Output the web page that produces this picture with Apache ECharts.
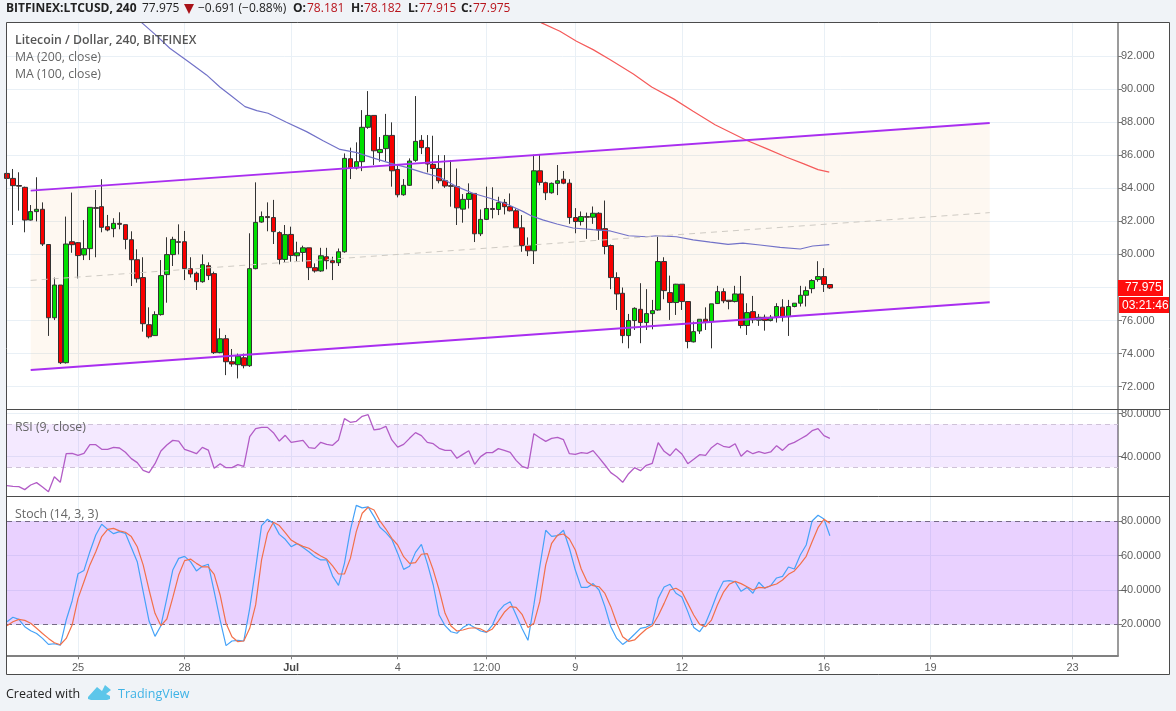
<!DOCTYPE html>
<html>
<head>
<meta charset="utf-8">
<title>Litecoin / Dollar, 240, BITFINEX</title>
<style>
html,body{margin:0;padding:0;background:#f0f3f7;}
#chart{width:1176px;height:711px;}
</style>
<script src="https://cdn.jsdelivr.net/npm/echarts@6/dist/echarts.min.js"></script>
</head>
<body>
<div id="chart"></div>
<script>
// 4-hour bars, index 0 = 23 June 00:00. Each row: open, close, low, high.
const ohlc = [
[84.9,84.6,84.3,85.1],[84.6,84.16,81.78,85.17],[84.17,84.13,82.65,84.97],[84.06,82.08,81.34,84.1],[82.08,82.59,82.05,82.99],
[82.59,82.73,82.0,84.67],[82.73,80.63,80.51,83.15],[80.6,76.17,75.07,80.6],[76.17,78.15,76.03,78.6],[78.15,73.45,73.37,78.15],
[73.45,80.63,73.4,82.29],[80.77,80.59,80.1,83.74],[80.71,79.93,78.55,80.75],[79.97,80.35,79.66,82.08],[80.35,82.85,79.66,82.85],
[82.83,82.79,79.83,83.9],[82.89,81.64,81.34,84.55],[81.68,81.48,81.4,82.39],[81.56,81.88,81.04,82.19],[81.88,81.82,81.52,82.55],
[81.8,80.91,80.31,81.8],[80.89,79.68,78.09,81.4],[79.68,78.53,78.29,80.31],[78.6,75.81,75.33,79.83],[75.75,75.02,74.92,76.8],
[75.09,76.36,75.07,76.56],[76.36,78.72,76.3,79.66],[78.78,79.99,77.08,81.04],[79.99,80.91,79.3,81.07],[80.77,80.73,80.0,81.82],
[80.77,79.14,78.45,81.42],[79.14,78.82,78.6,79.83],[78.86,78.35,77.85,78.96],[78.35,79.38,78.29,80.0],[79.32,78.72,78.45,79.52],
[78.84,74.06,73.98,78.96],[74.06,74.9,74.02,75.53],[74.9,73.51,72.7,75.13],[73.51,73.37,73.21,74.28],[73.33,73.85,72.5,74.0],
[73.75,73.27,73.11,74.0],[73.27,79.14,73.2,81.28],[79.14,81.94,79.1,84.36],[81.96,82.29,81.92,82.6],[82.29,82.23,81.4,83.15],
[82.23,81.38,80.63,83.3],[81.32,79.7,79.4,81.4],[79.7,81.2,79.5,81.78],[81.21,79.94,79.56,81.68],[79.92,80.1,79.56,80.77],
[80.12,80.4,79.56,80.53],[80.4,79.2,78.45,80.4],[79.2,79.0,78.9,79.46],[79.0,79.92,78.95,80.4],[79.86,79.62,79.1,80.4],
[79.62,79.5,78.45,79.86],[79.5,80.16,79.3,80.36],[80.16,85.81,80.1,86.11],[85.79,85.23,84.56,86.46],[85.23,85.61,85.14,86.78],
[85.61,87.69,85.04,88.73],[87.69,88.41,87.6,89.88],[88.41,86.27,85.41,88.41],[86.16,86.35,85.61,87.1],[86.4,87.2,85.65,88.5],
[87.2,85.06,84.1,87.99],[85.14,83.61,83.45,85.4],[83.61,84.18,83.55,84.56],[84.18,85.65,84.15,85.81],[85.69,86.84,85.6,89.58],
[86.9,86.46,86.07,87.22],[86.46,85.47,84.96,87.22],[85.45,85.2,83.95,87.18],[85.2,84.46,84.3,86.01],[84.46,84.14,84.03,86.01],
[84.16,84.12,82.89,85.71],[84.1,82.82,81.78,85.2],[82.74,83.33,81.92,83.65],[83.33,83.69,82.78,84.3],[83.69,81.25,80.75,83.7],
[81.25,82.12,81.11,82.72],[82.12,82.78,82.08,84.1],[82.78,82.72,82.18,84.06],[82.72,83.13,82.38,83.49],[83.15,82.89,82.42,83.35],
[82.89,82.64,82.6,83.69],[82.64,81.61,81.6,82.78],[81.61,80.53,80.16,82.38],[80.53,80.22,79.9,81.03],[80.22,85.06,79.42,86.03],
[85.06,84.36,84.18,86.03],[84.34,83.73,83.29,84.4],[83.73,84.3,83.68,84.35],[84.3,84.46,83.59,85.41],[84.55,84.31,84.25,85.05],
[84.31,82.23,81.85,84.55],[82.23,81.99,81.28,82.8],[81.99,82.29,81.75,82.6],[82.29,82.25,80.94,82.53],[82.25,82.49,81.85,82.9],
[82.49,81.48,80.88,82.55],[81.56,80.48,80.01,83.26],[80.54,78.6,77.9,80.6],[78.6,77.61,76.64,78.92],[77.65,75.09,74.63,78.0],
[75.09,76.0,74.32,76.4],[76.0,76.74,75.43,76.8],[76.68,75.88,74.63,78.26],[75.88,76.42,75.43,77.9],[76.42,76.6,75.47,77.25],
[76.64,79.57,76.6,81.08],[79.57,77.81,77.29,79.83],[77.69,77.09,76.04,78.72],[77.09,78.2,76.34,78.22],[78.2,77.15,76.64,78.2],
[77.15,74.73,74.32,77.15],[74.71,75.33,74.68,75.94],[75.37,76.08,75.19,76.08],[76.08,75.92,75.43,76.8],[75.94,77.01,74.32,77.01],
[77.03,77.75,77.0,78.1],[77.75,77.19,77.05,77.95],[77.23,77.15,76.68,77.23],[77.15,77.61,77.1,78.1],[77.61,75.7,75.53,78.7],
[75.7,76.48,75.13,77.05],[76.54,76.04,75.84,77.49],[76.02,76.2,75.68,76.4],[76.2,76.0,75.39,76.36],[76.0,76.2,75.95,76.34],
[76.24,76.85,75.88,77.05],[76.81,76.24,75.94,77.29],[76.24,76.85,75.07,77.25],[76.85,77.05,76.8,77.05],[77.05,77.53,76.85,78.1],
[77.53,77.81,76.85,78.06],[77.93,78.42,77.65,78.5],[78.48,78.66,78.35,79.59],[78.66,78.18,77.73,79.17],[78.181,77.975,77.915,78.182]
];

// Moving averages as [bar index, price] knots along the drawn curve.
const ma100 = [[22.75,94.02],[25.3,93.22],[27.5,92.47],[30.9,91.6],[33.7,90.86],[36,90.11],[37.7,89.65],[40.2,88.94],[42.2,88.7],[44.1,88.54],[47.2,88.0],[50.6,87.43],[53.4,86.88],[56.25,86.35],[59.1,86.16],[61.8,85.84],[64.7,85.52],[67.5,85.27],[70.3,84.95],[73.1,84.67],[76,84.1],[78.7,83.7],[81.6,83.4],[84.4,83.05],[87.2,82.59],[88.6,82.33],[90.5,82.09],[92.9,81.84],[95.6,81.6],[99,81.5],[101.9,81.42],[105,81.13],[108,81.07],[109.7,81.13],[113.1,81.07],[115.9,80.88],[118.8,80.74],[121.8,80.61],[124.3,80.68],[127.2,80.57],[130.6,80.43],[134,80.33],[136.1,80.51],[138.9,80.59]];
const ma200 = [[90.2,94.02],[93.4,93.5],[96.2,92.9],[99,92.39],[101.9,91.78],[105.8,90.92],[108.9,90.13],[112.6,89.41],[115.9,88.66],[119.6,87.85],[124.9,86.91],[128.3,86.4],[131.7,85.88],[134.5,85.49],[137,85.13],[138.9,84.98]];

// Parallel channel: [start bar, end bar] with prices at both ends.
const channelBars = [4, 166];
const channelUpper = [83.86, 87.95];
const channelLower = [73.01, 77.11];
const channelMiddle = [78.43, 82.53];

const rsi = [12.9,12.3,11.95,9.2,13.5,15.7,11.6,7.3,21.2,16,42.6,43,41.1,43,51,51,46.7,46.7,48.5,47.9,43.9,38,34.3,27.1,25,33.3,45.1,50.7,55,54.4,46.7,44.8,42.6,48.5,46,29,33.3,29.6,29.6,32.4,30.9,58.4,65.9,67.1,67.1,62.2,54.4,59.7,53.2,54.1,55,48.2,47.6,53.2,51.3,50.4,55.4,75.2,71.8,72.7,77.4,78.9,64.7,65.6,68.1,55.4,48.8,
51.3,56.9,62.2,59.4,53.2,51.9,47.6,45.7,45.7,38.3,42,45.4,32.7,39.9,43.6,43.6,47.3,45.7,43.9,36.4,30.9,29,61.2,57.5,54.1,56.9,57.8,55.7,42.6,42,43.6,43,45.4,38.9,32.1,25,21.2,16,24,29.6,26.8,31.8,33.7,52.9,44.8,40.8,47.3,42.3,33.3,37.4,41.7,41.1,48.2,52.3,49.5,48.5,51.9,40.2,45.4,42.6,44.5,43,44.2,50.1,45.7,51,53.2,56.3,59.4,64,65.9,59.4,56.9];

const stochK = [21.5,24.1,22.9,18.6,16.3,14.7,11.8,8.3,8.7,7.8,22.5,33.6,49.5,51.4,62.3,72,78.3,75.3,72.8,74,73,64.7,56.5,39,21.9,13,19.2,35.1,51.6,58.4,59.6,56.5,51.1,53.8,55,39,22.5,7.6,10.3,10.7,10.3,29.3,52.6,77.5,81.2,78.8,72.4,69.5,65.2,67,64.7,62.3,59.4,57.5,57.5,48.1,42.7,55.5,74.9,89.3,87.8,88.4,82.7,76.5,73.4,69.5,61.3,52,53.8,61.9,66.6,55.5,42.9,
25.4,19.2,15.7,14.8,18.1,20,18.1,16.1,15.3,19.6,27.4,31.3,33.2,25.4,17.6,10.7,31.3,53.6,74.8,71.2,71.6,74.8,64.3,51.6,41.5,41.5,43.7,40,30.3,18.6,11.8,8.3,10.9,14.2,17.6,18.4,20.2,35.1,41.7,43.3,38.1,35.9,27.4,18.2,15.7,20.6,28.9,38.1,45,45.4,44.8,39.2,41.5,38.1,44.5,41,42.5,47,47.9,53.4,52.2,60.4,66.2,80.2,83.5,81.3,71.6];

const stochD = [19.2,21.5,22.9,22.3,20.6,17.7,14.7,11.8,9.3,8.1,11.8,19.6,35.1,44.8,54.6,62.3,71.1,75.3,75.9,74.4,73.6,71.1,65.2,54.6,40,26.4,19.2,23.1,35.5,48.7,57.1,58,55.5,53.4,53.4,49.1,37.1,20.6,12.8,9.9,10.3,17.7,31.3,57.5,73,79.4,77.5,73.4,69.1,67,65.4,64.3,61.9,59.8,58,54,49.3,49.3,58.4,74,84.7,88.2,86.6,80.2,75.5,70.1,66.2,59.4,55.5,55.9,60.8,61.2,51.6,40,26.4,19,16.1,16.7,17.7,18,17.3,15.5,17.3,21.9,27,30.3,29.9,25.8,18.2,20.6,33.2,54.6,67.2,72,72.6,69.7,63.3,52.2,44.8,42.5,41.9,38,30.3,20.6,12.8,10.1,10.9,14.2,17.3,19.2,25,32.2,40,41,39,32.2,25.4,20,18.6,22.5,31.3,38.6,43.3,45,43.7,41.9,40,41.5,41.2,42.5,43.5,45.8,49.1,51.1,55.1,59.6,68.1,76.3,81.2,78.8];

// Time axis: bar index of each labelled tick and its text.
const timeTickBars = [12, 30, 48, 66, 81, 96, 114, 138, 156, 180];
const timeTickLabels = ['25', '28', 'Jul', '4', '12:00', '9', '12', '16', '19', '23'];

const priceTicks = [72, 74, 76, 78, 80, 82, 84, 86, 88, 90, 92];
const rsiTicks = [40, 80];
const stochTicks = [20, 40, 60, 80];
const rsiBand = [30, 70];
const stochBand = [20, 80];

const lastPrice = '77.975';
const countdown = '03:21:46';

const SANS = '"Open Sans", sans-serif';
const ARIAL = '"Liberation Sans", Arial, sans-serif';
const GRID_LINE = '#e9f0f6';
const AXIS_TEXT = '#5f5f5f';
const BAR_MAX = 187.67;

const indexed = arr => arr.map((v, i) => [i, v]);

function timeAxis(gridIndex, showLabels) {
  return {
    type: 'value', gridIndex, min: 0, max: BAR_MAX, position: 'bottom',
    axisLine: { show: showLabels, onZero: false, lineStyle: { color: '#808080', width: 2 } },
    axisTick: { show: showLabels, customValues: timeTickBars, length: 4, lineStyle: { color: '#808080' } },
    axisLabel: {
      show: showLabels, customValues: timeTickBars, margin: 7, color: AXIS_TEXT,
      fontFamily: ARIAL, fontSize: 11,
      formatter: v => {
        const t = timeTickLabels[timeTickBars.indexOf(v)];
        return t === 'Jul' ? '{b|Jul}' : t;
      },
      rich: { b: { fontWeight: 'bold', color: '#4a4a4a', fontFamily: ARIAL, fontSize: 11 } }
    },
    splitLine: { show: true, lineStyle: { color: GRID_LINE, width: 1 } }
  };
}

function valueAxis(gridIndex, min, max, ticks, digits) {
  return {
    type: 'value', gridIndex, min, max, position: 'right', scale: true,
    axisLine: { show: true, onZero: false, lineStyle: { color: '#7a7a7a', width: 1.5 } },
    axisTick: { show: true, customValues: ticks, length: 4, lineStyle: { color: '#7a7a7a' } },
    axisLabel: {
      customValues: ticks, margin: 3, color: AXIS_TEXT, fontFamily: ARIAL, fontSize: 11,
      padding: [2, 0, 0, 0],
      formatter: v => v.toFixed(digits)
    },
    splitLine: { show: true, lineStyle: { color: GRID_LINE, width: 1 } }
  };
}

function lineSeries(axisIndex, data, color, width, extra) {
  return Object.assign({
    type: 'line', xAxisIndex: axisIndex, yAxisIndex: axisIndex, data,
    showSymbol: false, symbol: 'none', silent: true, animation: false, z: 5,
    lineStyle: { color, width }
  }, extra || {});
}

// Shaded oscillator band with its two dashed limits.
function bandOverlay(axisIndex, band, fill, dash) {
  return {
    type: 'line', xAxisIndex: axisIndex, yAxisIndex: axisIndex, data: [], silent: true, animation: false, z: 2,
    markArea: { silent: true, itemStyle: { color: fill }, data: [[{ yAxis: band[1] }, { yAxis: band[0] }]] },
    markLine: {
      silent: true, symbol: 'none', animation: false, label: { show: false },
      lineStyle: { color: dash, type: [5, 4], width: 1 },
      data: band.map(v => ({ yAxis: v }))
    }
  };
}

const channelFill = {
  type: 'custom', xAxisIndex: 0, yAxisIndex: 0, silent: true, animation: false, z: 1,
  data: [[channelBars[0], channelLower[0], channelUpper[0]], [channelBars[1], channelLower[1], channelUpper[1]]],
  renderItem: (params, api) => {
    if (params.dataIndex !== 0) return null;
    const pts = [
      api.coord([channelBars[0], channelLower[0]]), api.coord([channelBars[1], channelLower[1]]),
      api.coord([channelBars[1], channelUpper[1]]), api.coord([channelBars[0], channelUpper[0]])
    ];
    return { type: 'polygon', shape: { points: pts }, style: { fill: 'rgba(240,170,90,0.085)' } };
  }
};

const candles = {
  type: 'candlestick', xAxisIndex: 0, yAxisIndex: 0, silent: true, animation: false, z: 3,
  barWidth: 5,
  itemStyle: { color: '#00e000', color0: '#f80000', borderColor: '#333', borderColor0: '#333', borderColorDoji: '#222', borderWidth: 1 },
  data: ohlc.map((r, i) => [i, r[0], r[1], r[2], r[3]])
};

const channelLine = (a, b, color, width, extra) => lineSeries(0,
  [[channelBars[0], a], [channelBars[1], b]], color, width, extra);

function txt(text, x, y, font, fill, extra) {
  return { type: 'text', z: 50, silent: true, style: Object.assign({ text, x, y, font, fill, textVerticalAlign: 'middle' }, extra || {}) };
}
function rect(x, y, w, h, style, z) {
  return { type: 'rect', z: z, silent: true, shape: { x, y, width: w, height: h }, style };
}
function poly(points, fill) {
  return { type: 'polygon', z: 50, silent: true, shape: { points }, style: { fill } };
}

const headerDark = '#222';
const headerRed = '#b8141c';
const HB = 'bold 12px ' + SANS, HN = '12px ' + SANS;

const graphics = [
  rect(6.5, 22.5, 1163, 652, { fill: '#fff' }, -5),
  rect(6.5, 22.5, 1163, 652, { fill: 'none', stroke: '#4b4b4b', lineWidth: 1 }, 40),
  { type: 'line', z: 40, silent: true, shape: { x1: 6.5, y1: 409.5, x2: 1169.5, y2: 409.5 }, style: { stroke: '#4b4b4b', lineWidth: 1 } },
  { type: 'line', z: 40, silent: true, shape: { x1: 6.5, y1: 496.5, x2: 1169.5, y2: 496.5 }, style: { stroke: '#4b4b4b', lineWidth: 1 } },
  txt('BITFINEX:LTCUSD, 240', 6, 9, HB, headerDark),
  txt('77.975', 142, 9, HN, headerDark),
  poly([[184, 4], [194, 4], [189, 14]], '#a81218'),
  txt('\u22120.691 (\u22120.88%)', 198, 9, HN, headerDark),
  txt('O:', 293, 9, HB, headerDark), txt('78.181', 307, 9, HN, headerRed),
  txt('H:', 351, 9, HB, headerDark), txt('78.182', 364, 9, HN, headerRed),
  txt('L:', 408, 9, HB, headerDark), txt('77.915', 419, 9, HN, headerRed),
  txt('C:', 461, 9, HB, headerDark), txt('77.975', 473, 9, HN, headerRed),
  txt('Litecoin / Dollar, 240, BITFINEX', 15, 40, '600 12.3px ' + SANS, '#555'),
  txt('MA (200, close)', 15, 57, '12.3px ' + SANS, '#666'),
  txt('MA (100, close)', 15, 74, '12.3px ' + SANS, '#666'),
  txt('RSI (9, close)', 15, 427, '12.3px ' + SANS, '#666'),
  txt('Stoch (14, 3, 3)', 15, 514, '12.3px ' + SANS, '#666'),
  rect(1118, 280, 45, 16, { fill: '#ff0d0d' }, 45),
  txt(lastPrice, 1125, 288, '12px ' + ARIAL, '#fff'),
  rect(1119, 297, 50, 16, { fill: '#ff0d0d' }, 45),
  txt(countdown, 1122, 305.5, '12px ' + ARIAL, '#fff'),
  txt('Created with', 6, 694, '12.5px ' + SANS, '#222'),
  // TradingView cloud mark
  poly([[88, 697], [97, 687], [102, 691], [105, 685], [111, 690], [106, 694], [110, 696], [110, 699], [107, 700], [91, 700], [88, 699]], '#5cc6ea'),
  txt('TradingView', 118, 694, '12.5px ' + SANS, '#3fb3e6')
];

const option = {
  backgroundColor: 'transparent',
  animation: false,
  grid: [
    { left: 7, top: 23, width: 1111, height: 386 },
    { left: 7, top: 410, width: 1111, height: 86 },
    { left: 7, top: 497, width: 1111, height: 158.3 }
  ],
  xAxis: [timeAxis(0, false), timeAxis(1, false), timeAxis(2, true)],
  yAxis: [
    valueAxis(0, 70.65, 94.0, priceTicks, 3),
    valueAxis(1, 3.26, 83.26, rsiTicks, 4),
    valueAxis(2, 1.96, 94.15, stochTicks, 4)
  ],
  series: [
    channelFill,
    candles,
    lineSeries(0, ma200, '#f55a5a', 1.2),
    lineSeries(0, ma100, '#7272c8', 1.2),
    channelLine(channelMiddle[0], channelMiddle[1], '#cfcbc4', 1, { lineStyle: { color: '#cfcbc4', width: 1, type: [6, 5] } }),
    channelLine(channelUpper[0], channelUpper[1], '#a92ef0', 2),
    channelLine(channelLower[0], channelLower[1], '#a92ef0', 2),
    bandOverlay(1, rsiBand, 'rgba(150,40,255,0.1)', '#cfc2d8'),
    lineSeries(1, indexed(rsi), '#b25cc6', 1.3),
    bandOverlay(2, stochBand, 'rgba(150,40,255,0.21)', '#756a85'),
    lineSeries(2, indexed(stochK), '#45a2f8', 1.2),
    lineSeries(2, indexed(stochD), '#f2704a', 1.2)
  ],
  graphic: { elements: graphics }
};

echarts.init(document.getElementById('chart'), null, { renderer: 'canvas' }).setOption(option);
</script>
</body>
</html>
